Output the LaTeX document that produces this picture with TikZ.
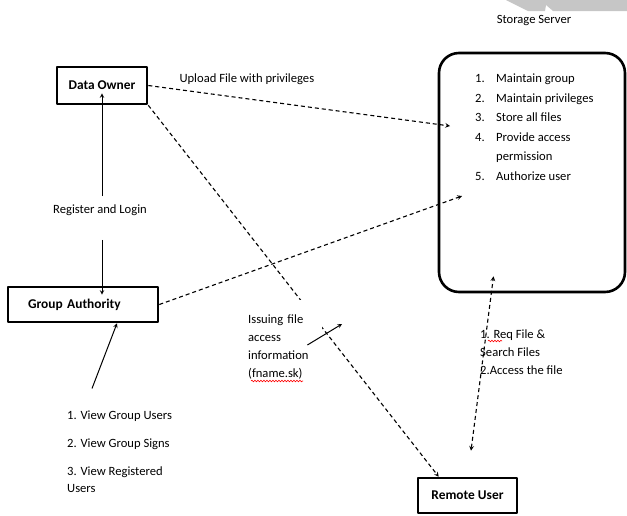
\documentclass[tikz,border=0pt]{standalone}
\usepackage{fontspec}
\setmainfont{Carlito}
\usetikzlibrary{decorations.pathmorphing}
\begin{document}
\begin{tikzpicture}[x=1pt,y=-1pt,>=stealth,line join=round,font=\fontsize{12.6}{17.5}\selectfont,
  actor/.style={draw,line width=2.6pt,inner sep=0pt,font=\fontsize{13.4}{16}\selectfont\bfseries},
  flow/.style={->,line width=1.1pt,dash pattern=on 4pt off 3pt},
  hint/.style={anchor=north west,align=left,inner sep=0pt},
  typo/.style={red,line width=.6pt,decorate,decoration={snake,segment length=3pt,amplitude=.8pt}}]
\useasboundingbox (0,0) rectangle (627,515);
\fill[gray!45] (506,0)--(627,0)--(627,11)--(553,11)--(546,5)--(545,11)--(528,11)--cycle
;
\node (srv) at (534,20){Storage Server};
\node[draw,line width=2.6pt,rounded corners=20pt,minimum width=186pt,minimum height=239pt] (store) at (532,172.5){};
\node[hint,font=\fontsize{12.6}{19.5}\selectfont] (jobs) at (475,74){\makebox[21pt][l]{1.}Maintain group\\\makebox[21pt][l]{2.}Maintain privileges\\\makebox[21pt][l]{3.}Store all files\\\makebox[21pt][l]{4.}Provide access\\\hspace*{21pt}permission\\\makebox[21pt][l]{5.}Authorize user};
\node[actor,minimum width=90pt,minimum height=37pt] (own) at (102,85.5){Data Owner};
\node[actor,minimum width=150pt,minimum height=35pt,text width=110pt,inner xsep=20pt,align=left] (grp) at (83,304.5){Group Authority};
\node[actor,minimum width=99pt,minimum height=35pt] (rem) at (467.5,495.5){Remote User};
\node[anchor=west] (upl) at (176,79){Upload File with privileges};
\node (reg) at (100,210){Register and Login};
\node[hint,font=\fontsize{12.6}{17}\selectfont] (views) at (67,410.5){1. View Group Users\\[11.5pt]2. View Group Signs\\[11pt]3. View Registered\\Users};
\node[hint,font=\fontsize{12.6}{18}\selectfont] (req) at (480,330){1. Req File \&\\Search Files\\2.Access the file};
\coordinate (upin) at (450,126);
\coordinate (grpin) at (462,196);
\coordinate (infotip) at (342,324);
\draw[flow] (own.east) -- (upin);
\draw[flow] (grp.east) -- (grpin);
\draw[flow] (own.south east) -- ([xshift=22pt]rem.north west);
\draw[flow,<->] ([xshift=3.5pt,yshift=26pt]rem.north) -- ([xshift=-38.5pt,yshift=17pt]store.south);
\node[fill=white,anchor=north west,align=left,text width=68pt,inner xsep=6pt,inner ysep=15pt,font=\fontsize{12.6}{18}\selectfont] (issue) at (242,300){Issuing file\\access\\information\\(fname.sk)};
\draw[->,line width=1pt] ([xshift=-15pt,yshift=-45pt]issue.north east) -- (infotip);
\draw[->,line width=1pt,shorten >=-12pt] (reg.north -| own) ++(0,-5) -- (own.south);
\draw[->,line width=1pt,shorten >=-9pt] (reg.south -| own) ++(0,21) -- (own |- grp.north);
\draw[->,line width=1pt] (views.north west) ++(25,-22) -- ([xshift=34pt]grp.south);
\draw[typo] (251,381) -- (303,381);
\draw[typo] (488,341) -- (502,341);
\end{tikzpicture}
\end{document}
